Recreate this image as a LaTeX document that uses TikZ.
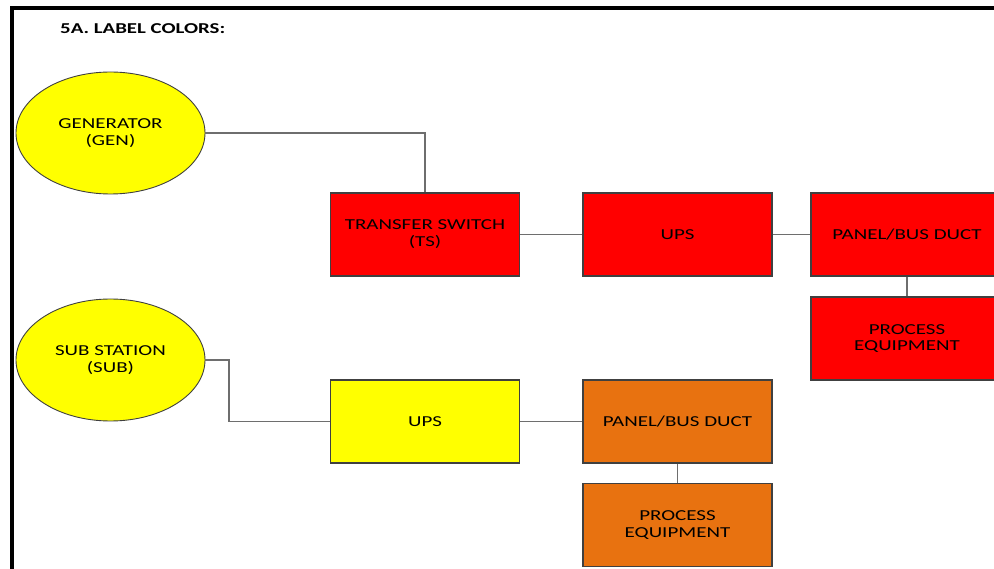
\documentclass[tikz,border=0pt]{standalone}
\usepackage{fontspec}
\newfontfamily\lblfont[FakeStretch=1.38]{Carlito}
\usetikzlibrary{shapes.geometric}
\definecolor{boxred}{RGB}{255,0,0}
\definecolor{boxyellow}{RGB}{255,255,0}
\definecolor{boxorange}{RGB}{232,114,16}
\definecolor{edgegray}{RGB}{64,64,64}
\definecolor{wiregray}{RGB}{110,110,110}
\tikzset{
  lbl/.style={font=\lblfont\fontsize{15.2}{16.8}\selectfont, align=center, text=black},
  unitbox/.style={lbl, draw=edgegray, line width=1.1pt, rectangle, inner sep=0pt,
    minimum width=189pt, minimum height=83pt},
  source/.style={lbl, draw=edgegray, line width=0.9pt, ellipse, inner sep=0pt,
    minimum width=189pt, minimum height=122pt, fill=boxyellow},
  wire/.style={draw=wiregray, line width=1.1pt},
  frame/.style={draw=black, line width=4.3pt}
}
\begin{document}
\begin{tikzpicture}[x=1pt,y=-1pt]
\useasboundingbox (0,0) rectangle (994,569);
\clip (0,0) rectangle (994,569);
\coordinate (fa) at (11.8,575);
\coordinate (fb) at (11.8,8);
\coordinate (fc) at (1000,8);
\draw[frame] (fa) -- (fb) -- (fc);
\node[anchor=west, inner sep=0pt, font=\lblfont\bfseries\fontsize{15.1}{16}\selectfont] (title) at (60,28.5) {5A. LABEL COLORS:};
\node[source] (gen) at (110.5,133) {GENERATOR\\(GEN)};
\node[source] (sub) at (110.5,360) {SUB STATION\\(SUB)};
\node[unitbox, fill=boxred] (ts) at (425,234.5) {TRANSFER SWITCH\\(TS)};
\node[unitbox, fill=boxred] (upsa) at (677.5,234.5) {UPS};
\node[unitbox, fill=boxred, minimum width=192pt] (pana) at (907,234.5) {PANEL/BUS DUCT};
\node[unitbox, fill=boxred, minimum width=192pt] (proca) at (907,338.5) {PROCESS\\EQUIPMENT};
\node[unitbox, fill=boxyellow] (upsb) at (425,421.5) {UPS};
\node[unitbox, fill=boxorange] (panb) at (677.5,421.5) {PANEL/BUS DUCT};
\node[unitbox, fill=boxorange] (procb) at (677.5,525) {PROCESS\\EQUIPMENT};
\coordinate (subbend) at (229,0);
\draw[wire] (gen.east) -| (ts.north);
\draw[wire] (ts.east) -- (upsa.west);
\draw[wire] (upsa.east) -- (pana.west);
\draw[wire] (pana.south) -- (proca.north);
\draw[wire] (sub.east) -| (subbend |- upsb.west) -- (upsb.west);
\draw[wire] (upsb.east) -- (panb.west);
\draw[wire] (panb.south) -- (procb.north);
\end{tikzpicture}
\end{document}
